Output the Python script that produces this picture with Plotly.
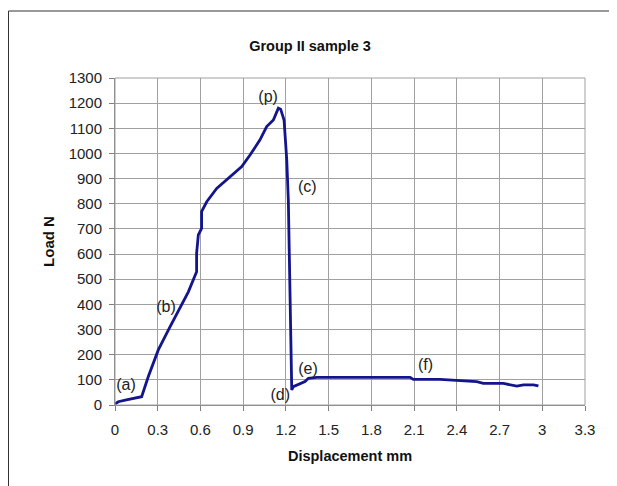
import plotly.graph_objects as go

disp = [0.0, 0.023, 0.08, 0.14, 0.187, 0.234, 0.304, 0.386, 0.456, 0.515, 0.573,
        0.573, 0.585, 0.608, 0.608, 0.644, 0.714, 0.784, 0.890, 0.948, 1.018, 1.065,
        1.112, 1.147, 1.163, 1.187, 1.206, 1.217, 1.224, 1.229, 1.241, 1.252,
        1.334, 1.358, 1.416, 2.072, 2.095, 2.282, 2.446, 2.540, 2.586, 2.727,
        2.821, 2.868, 2.938, 2.973]
load = [4, 13, 20, 27, 33, 113, 219, 311, 384, 450, 530,
        603, 676, 702, 769, 808, 861, 895, 948, 994, 1054, 1107,
        1133, 1180, 1176, 1133, 974, 815, 603, 351, 60, 73,
        93, 106, 110, 110, 102, 102, 97, 93, 86, 86,
        75, 80, 80, 76]

labels = ["(p)", "(c)", "(b)", "(a)", "(d)", "(e)", "(f)"]
label_x = [1.075, 1.35, 0.358, 0.077, 1.16, 1.355, 2.18]
label_y = [1220, 863, 386, 75, 36, 139, 155]

x_ticks = [0, 0.3, 0.6, 0.9, 1.2, 1.5, 1.8, 2.1, 2.4, 2.7, 3, 3.3]
y_ticks = list(range(0, 1301, 100))

FONT = "Liberation Sans, Arial, sans-serif"
W, H = 609, 478
L, T, PW, PH = 107, 70, 470, 327

fig = go.Figure()
fig.add_trace(go.Scatter(x=disp, y=load, mode="lines",
                         line=dict(color="#14148c", width=2.8), showlegend=False))
fig.add_trace(go.Scatter(x=label_x, y=label_y, mode="text", text=labels,
                         textfont=dict(family=FONT, size=16, color="#222"),
                         showlegend=False))

fig.update_layout(
    width=W, height=H,
    margin=dict(l=L, r=W - L - PW, t=T, b=H - T - PH),
    paper_bgcolor="white", plot_bgcolor="white",
    font=dict(family=FONT, size=15, color="#222"),
    title=dict(text="<b>Group II sample 3</b>", x=302 / W, xanchor="center",
               y=1 - 38 / H, yanchor="middle", font=dict(size=14.5, color="#111")),
    xaxis=dict(range=[0, 3.3], tickvals=x_ticks, ticktext=[str(v) for v in x_ticks],
               showgrid=True, gridcolor="#a0a0a0", gridwidth=1,
               showline=True, linecolor="#808080", linewidth=1,
               ticks="outside", ticklen=5, tickcolor="#808080", zeroline=False,
               ticklabelstandoff=6,
               title=dict(text="<b>Displacement mm</b>", font=dict(size=14.5, color="#111"),
                          standoff=13)),
    yaxis=dict(range=[0, 1300], tickvals=y_ticks,
               showgrid=True, gridcolor="#a0a0a0", gridwidth=1,
               showline=True, linecolor="#808080", linewidth=1,
               ticks="outside", ticklen=5, tickcolor="#808080", zeroline=False,
               ticklabelstandoff=4,
               title=dict(text="<b>Load N</b>", font=dict(size=15, color="#111"), standoff=10)),
    shapes=[dict(type="rect", xref="paper", yref="paper",
                 x0=(0.5 - L) / PW, x1=(W + 10 - L) / PW,
                 y0=(T + PH - H - 10) / PH, y1=(T + PH - 3) / PH,
                 line=dict(color="#333", width=1), fillcolor="rgba(0,0,0,0)", layer="below"),
            dict(type="rect", xref="paper", yref="paper", x0=0, x1=1, y0=0, y1=1,
                 line=dict(color="#a0a0a0", width=1), fillcolor="rgba(0,0,0,0)")],
)

fig.write_html("out.html")
